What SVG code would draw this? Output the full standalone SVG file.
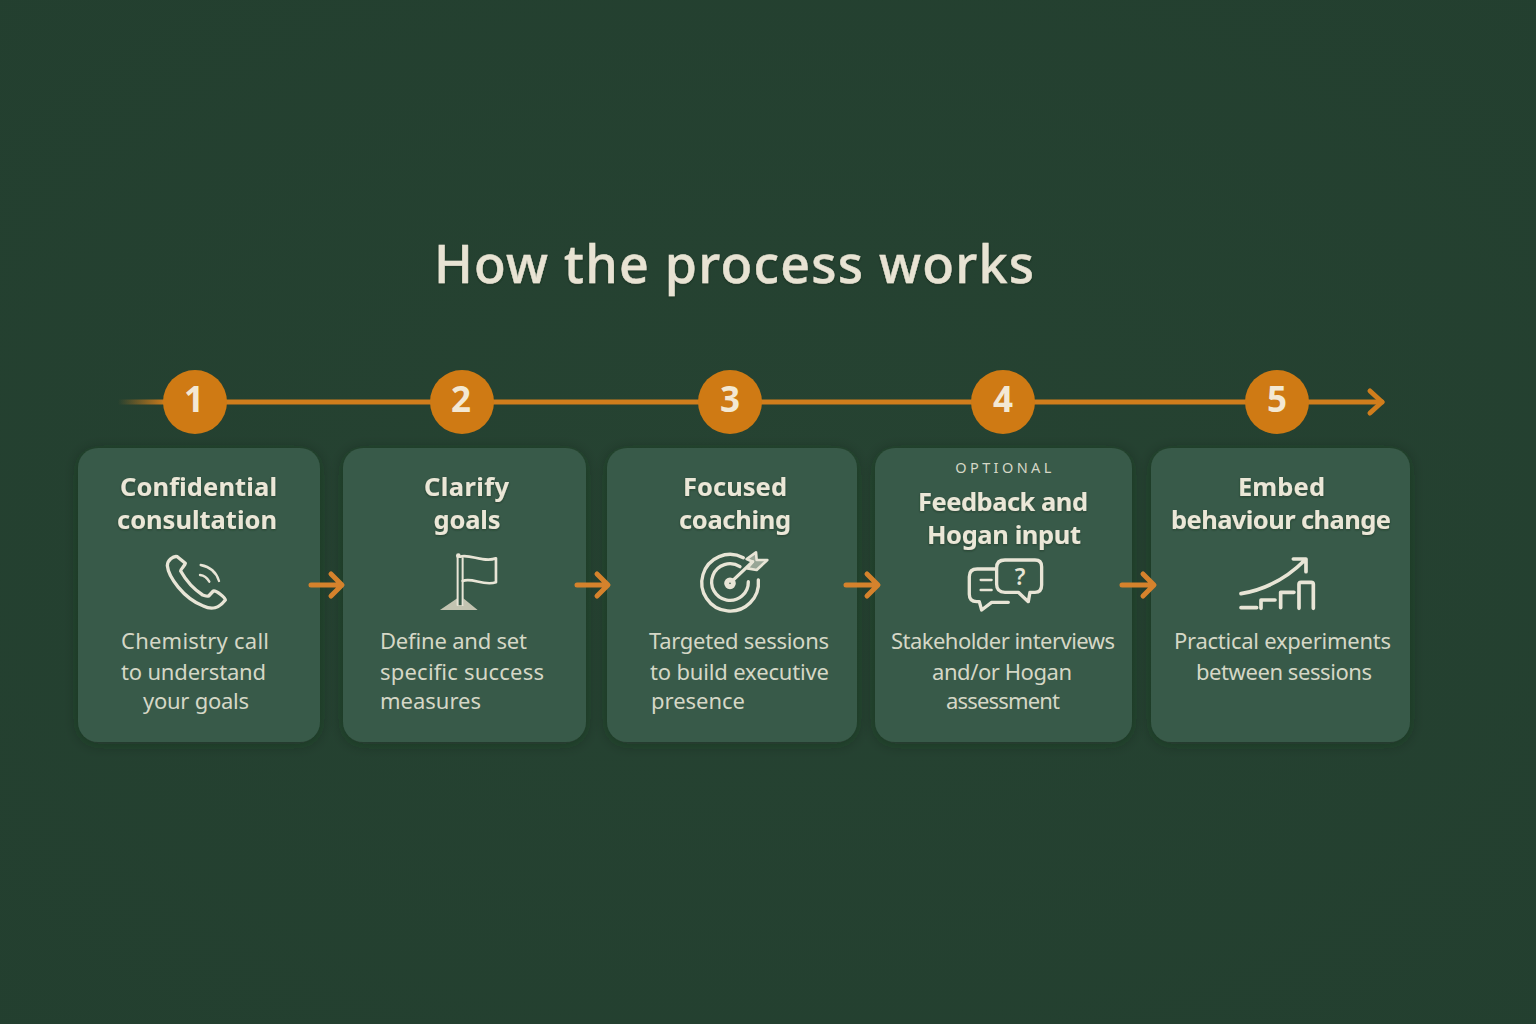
<svg xmlns="http://www.w3.org/2000/svg" width="1536" height="1024" viewBox="0 0 1536 1024">
<defs>
<radialGradient id="bg" cx="50%" cy="50%" r="75%"><stop offset="0" stop-color="#264332"/><stop offset="1" stop-color="#233f2f"/></radialGradient>
<linearGradient id="fade" gradientUnits="userSpaceOnUse" x1="118" y1="0" x2="165" y2="0"><stop offset="0" stop-color="#c97a1c" stop-opacity="0"/><stop offset="1" stop-color="#c97a1c"/></linearGradient>
<filter id="cs" x="-15%" y="-15%" width="130%" height="130%"><feDropShadow dx="0" dy="2" stdDeviation="7" flood-color="#14291e" flood-opacity=".35"/></filter>
<filter id="ts" x="-10%" y="-20%" width="120%" height="140%"><feDropShadow dx="0" dy="1" stdDeviation="1" flood-color="#12251b" flood-opacity=".45"/></filter>
</defs>
<style>
text{font-family:"Noto Sans","Open Sans","Liberation Sans",sans-serif;text-anchor:middle}
.title{font-size:52px;font-weight:500;fill:#e8e3d3;stroke:#e8e3d3;stroke-width:.4px}
.h{font-size:25.5px;font-weight:700;fill:#ebe7d7}
.b{font-size:22px;font-weight:400;fill:#d5d7c6}
.o{font-size:14.5px;font-weight:400;fill:#d5d7c6;letter-spacing:3.4px}
.n{font-size:35px;font-weight:700;fill:#f3e8d3}
.card{fill:#385a48}
.disc{fill:#cf7a14}
.ic{fill:none;stroke:#e8e5d6;stroke-width:10;stroke-linecap:round;stroke-linejoin:round}
.arr{fill:none;stroke:#d5822c;stroke-width:5;stroke-linecap:round;stroke-linejoin:round}
.tl{fill:none;stroke:#d07d1c;stroke-width:5;stroke-linejoin:round;stroke-linecap:round}
</style>
<rect width="1536" height="1024" fill="url(#bg)"/>
<text class="title" x="734" y="283" textLength="600" filter="url(#ts)">How the process works</text>

<g id="cards">
<rect class="card" x="78" y="448" width="242" height="294" rx="20" filter="url(#cs)"/>
<rect class="card" x="343" y="448" width="243" height="294" rx="20" filter="url(#cs)"/>
<rect class="card" x="607" y="448" width="250" height="294" rx="20" filter="url(#cs)"/>
<rect class="card" x="875" y="448" width="257" height="294" rx="20" filter="url(#cs)"/>
<rect class="card" x="1151" y="448" width="259" height="294" rx="20" filter="url(#cs)"/>
</g>

<g id="connectors">
<rect x="118" y="399.500" width="50" height="5" fill="url(#fade)"/>
<path class="tl" d="M165 402H1382"/>
<path class="arr" style="stroke:#d07d1c" d="M1370 391L1382 402L1370 413"/>
<path class="arr" d="M311 585H341M331 574L342 585L331 596"/>
<path class="arr" d="M577 585H607M597 574L608 585L597 596"/>
<path class="arr" d="M846 585H877M867 574L878 585L867 596"/>
<path class="arr" d="M1122 585H1153M1143 574L1154 585L1143 596"/>
</g>

<g id="step1">
<circle class="disc" cx="195" cy="402" r="32"/>
<text class="n" x="194" y="412">1</text>
<text class="h" filter="url(#ts)" x="198.500" y="496" textLength="157">Confidential</text>
<text class="h" filter="url(#ts)" x="197" y="529" textLength="160">consultation</text>
<g transform="translate(150 545) scale(.3333)">
<path class="ic" d="M82 35C70 32 52 45 52 62C55 95 100 160 160 183C185 195 205 192 226 165C226 158 198 135 190 138L176 153C170 155 165 152 158 150C135 135 110 110 92 78C92 72 105 62 106 55Z"/>
<path class="ic" style="stroke-width:7" d="M150 90Q168 92 178 110M152 60Q195 68 207 108"/>
</g>
<text class="b" x="195" y="649" textLength="148">Chemistry call</text>
<text class="b" x="193.500" y="680" textLength="145">to understand</text>
<text class="b" x="196" y="709" textLength="106">your goals</text>
</g>

<g id="step2">
<circle class="disc" cx="462" cy="402" r="32"/>
<text class="n" x="461" y="412">2</text>
<text class="h" filter="url(#ts)" x="466.500" y="496" textLength="85">Clarify</text>
<text class="h" filter="url(#ts)" x="467" y="529" textLength="67">goals</text>
<g transform="translate(150 545) scale(.3333)">
<path d="M870 195L922 160V180H940V160L983 195Z" fill="#c3c4b1"/>
<path class="ic" style="stroke-width:6" d="M923 32V180M938 40V180"/>
<circle cx="925" cy="32" r="7" fill="#e8e5d6"/>
<path class="ic" style="stroke-width:8" d="M930 35C960 25 1000 55 1038 40V112C1000 125 965 95 938 108"/>
</g>
<text class="b" x="453.500" y="649" textLength="147">Define and set</text>
<text class="b" x="462" y="680" textLength="164">specific success</text>
<text class="b" x="430.500" y="709" textLength="101">measures</text>
</g>

<g id="step3">
<circle class="disc" cx="730" cy="402" r="32"/>
<text class="n" x="730" y="412">3</text>
<text class="h" filter="url(#ts)" x="735" y="496" textLength="104">Focused</text>
<text class="h" filter="url(#ts)" x="735" y="529" textLength="112">coaching</text>
<g transform="translate(690 545) scale(.3333)">
<path class="ic" d="M160 38A85 85 0 1 0 205 105"/>
<path class="ic" d="M150 65A55 55 0 1 0 175 110"/>
<circle cx="120" cy="115" r="10" fill="#385a48" stroke="#e8e5d6" stroke-width="15"/>
<path class="ic" d="M128 107L188 50"/>
<path class="ic" style="fill:#e8e5d6;fill-opacity:.55;stroke-width:8" d="M170 42L198 22L200 45L232 45L200 75L172 70L188 50Z"/>
</g>
<text class="b" x="739" y="649" textLength="180">Targeted sessions</text>
<text class="b" x="739.500" y="680" textLength="179">to build executive</text>
<text class="b" x="698" y="709" textLength="94">presence</text>
</g>

<g id="step4">
<circle class="disc" cx="1003" cy="402" r="32"/>
<text class="n" x="1003" y="412">4</text>
<text class="o" x="1005" y="473">OPTIONAL</text>
<text class="h" filter="url(#ts)" x="1003" y="511" textLength="170">Feedback and</text>
<text class="h" filter="url(#ts)" x="1004" y="544" textLength="154">Hogan input</text>
<g transform="translate(690 545) scale(.3333)">
<path class="ic" d="M915 72H862Q838 72 838 95V148Q838 170 860 170H868L875 195L905 172H955"/>
<path class="ic" style="stroke-width:7" d="M872 105H905M872 135H905"/>
<path class="ic" d="M945 45H1035Q1055 45 1055 65V120Q1055 142 1035 142H1020L1015 170L985 142H945Q920 142 920 118V68Q920 45 945 45Z"/>
</g>
<text x="1020" y="585" style="font-size:23px;font-weight:600;fill:#e8e5d6">?</text>
<text class="b" x="1003" y="649" textLength="224">Stakeholder interviews</text>
<text class="b" x="1002" y="680" textLength="140">and/or Hogan</text>
<text class="b" x="1003" y="709" textLength="114">assessment</text>
</g>

<g id="step5">
<circle class="disc" cx="1277" cy="402" r="32"/>
<text class="n" x="1277" y="412">5</text>
<text class="h" filter="url(#ts)" x="1281.500" y="496" textLength="87">Embed</text>
<text class="h" filter="url(#ts)" x="1281" y="529" textLength="220">behaviour change</text>
<g transform="translate(1230 545) scale(.3333)">
<path class="ic" style="stroke-width:11" d="M33 146C100 135 170 100 225 45M190 42H228V80"/>
<path class="ic" style="stroke-width:11" d="M33 188H80M93 190V165H135M152 188V142H192M207 190V118Q207 112 213 112H244Q250 112 250 118V190"/>
</g>
<text class="b" x="1282.500" y="649" textLength="217">Practical experiments</text>
<text class="b" x="1284" y="680" textLength="176">between sessions</text>
</g>
</svg>
